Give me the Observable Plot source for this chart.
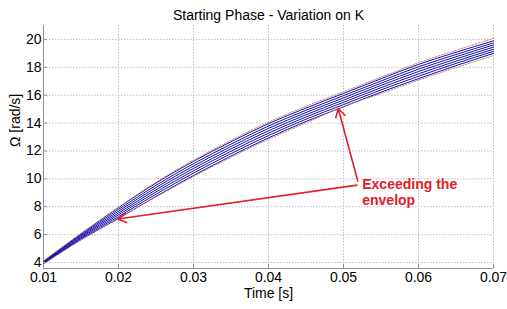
<!DOCTYPE html>
<html><head><meta charset="utf-8">
<script src="https://cdn.jsdelivr.net/npm/d3@7"></script>
<script src="https://cdn.jsdelivr.net/npm/@observablehq/plot@0.6"></script>
<style>
html,body{margin:0;padding:0;background:#fff;}
#chart svg{font-family:"Liberation Sans",Arial,sans-serif;}
</style></head>
<body><div id="chart"></div>
<script>
const times = [0.01,0.015,0.02,0.025,0.03,0.035,0.04,0.045,0.05,0.055,0.06,0.065,0.07];
const k1 = [3.91,5.64,7.16,8.74,10.24,11.64,12.94,14.12,15.17,16.22,17.19,18.12,19.00];
const k2 = [3.94,5.71,7.29,8.90,10.41,11.81,13.11,14.28,15.33,16.38,17.36,18.28,19.15];
const k3 = [3.97,5.78,7.42,9.06,10.58,11.98,13.28,14.44,15.49,16.54,17.53,18.44,19.30];
const k4 = [4.00,5.85,7.55,9.22,10.75,12.15,13.45,14.60,15.65,16.70,17.70,18.60,19.45];
const k5 = [4.03,5.92,7.68,9.38,10.92,12.32,13.62,14.76,15.81,16.86,17.87,18.76,19.60];
const k6 = [4.06,5.99,7.81,9.54,11.09,12.49,13.79,14.92,15.97,17.02,18.04,18.92,19.75];
const k7 = [4.09,6.06,7.94,9.70,11.26,12.66,13.96,15.08,16.13,17.18,18.21,19.08,19.90];
const envUpper = [4.12,6.09,7.97,9.76,11.33,12.76,14.07,15.21,16.25,17.29,18.33,19.22,20.08];
const envLower = [3.88,5.62,7.20,8.70,10.17,11.55,12.84,14.01,15.20,16.11,17.08,17.98,18.84];
const xTicks = [0.01,0.02,0.03,0.04,0.05,0.06,0.07];
const yTicks = [4,6,8,10,12,14,16,18,20];
const title = "Starting Phase - Variation on K";
const xLabel = "Time [s]";
const yLabel = "Ω [rad/s]";
const annoLines = ["Exceeding the","envelop"];
const annoTextT = [0.0525,0.0525];
const annoTextV = [9.62,8.45];
const arrowFromT = [0.0518,0.0519];
const arrowFromV = [9.55,9.85];
const arrowToT = [0.0199,0.0493];
const arrowToV = [7.12,15.05];

const blue = [k1,k2,k3,k4,k5,k6,k7];
const blueData = blue.flatMap((s,i)=>s.map((v,j)=>({t:times[j],v,s:i})));
const envData = [envUpper,envLower].flatMap((s,i)=>s.map((v,j)=>({t:times[j],v,s:i})));
const annoText = annoLines.map((l,i)=>({l,t:annoTextT[i],v:annoTextV[i]}));
const arrows = arrowFromT.map((t,i)=>({x1:t,y1:arrowFromV[i],x2:arrowToT[i],y2:arrowToV[i]}));

const plot = Plot.plot({
  width:507, height:309,
  marginLeft:43, marginRight:14, marginTop:25, marginBottom:41,
  x:{domain:[0.01,0.07]},
  y:{domain:[3.57,21]},
  style:{fontFamily:"Liberation Sans, Arial, sans-serif", background:"#fff"},
  marks:[
    Plot.gridX(xTicks,{stroke:"#b0b0b0",strokeOpacity:1,strokeDasharray:"1.5,1.5",strokeWidth:0.8}),
    Plot.gridY(yTicks,{stroke:"#b0b0b0",strokeOpacity:1,strokeDasharray:"1.5,1.5",strokeWidth:0.8}),
    Plot.ruleX([0.01],{stroke:"#909090",strokeWidth:1}),
    Plot.ruleY([3.57],{stroke:"#909090",strokeWidth:1}),
    Plot.line(blueData,{x:"t",y:"v",z:"s",stroke:"#1010b0",strokeWidth:1,curve:"monotone-x"}),
    Plot.line(envData,{x:"t",y:"v",z:"s",stroke:"#d08070",strokeWidth:1,strokeDasharray:"1.5,1.5",curve:"monotone-x"}),
    Plot.axisX(xTicks,{tickFormat:d3.format(".2f"),tickSize:-4,tickPadding:8,fontSize:14,stroke:"#909090",fill:"#000",label:null}),
    Plot.axisY(yTicks,{tickSize:-4,tickPadding:6,fontSize:14,stroke:"#909090",fill:"#000",label:null}),
    Plot.arrow(arrows,{x1:"x1",y1:"y1",x2:"x2",y2:"y2",stroke:"#e0202a",strokeWidth:1.6,headLength:9}),
    Plot.text(annoText,{x:"t",y:"v",text:"l",textAnchor:"start",fill:"#e0202a",fontWeight:"bold",fontSize:14}),
    Plot.text([title],{frameAnchor:"top",dy:-15,fontSize:14,fill:"#000"}),
    Plot.text([xLabel],{frameAnchor:"bottom",dy:29,fontSize:14,fill:"#000"}),
    Plot.text([yLabel],{frameAnchor:"left",dx:-28,rotate:-90,fontSize:14,fill:"#000"})
  ]
});
document.getElementById("chart").appendChild(plot);
</script></body></html>
